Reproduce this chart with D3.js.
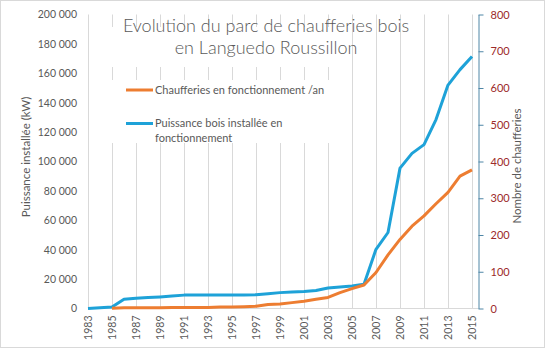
<!DOCTYPE html>
<html>
<head>
<meta charset="utf-8">
<script src="https://cdn.jsdelivr.net/npm/d3@7"></script>
<style>
  html, body { margin: 0; padding: 0; background: #fff; }
  svg { display: block; font-family: Lato, "Liberation Sans", sans-serif; }
</style>
</head>
<body>
<svg id="chart" width="545" height="350"></svg>
<script>
// Years on the category axis
const years = d3.range(1983, 2016);
const yearTicks = d3.range(1983, 2016, 2);

// Installed wood-fired power in operation (kW) — left axis
const puissance = [
  0, 500, 1000, 6300, 7000, 7400, 7900, 8500, 9100, 9100, 9100,
  9100, 9200, 9200, 9300, 10000, 10800, 11200, 11600, 12200, 14000,
  14700, 15300, 16500, 40300, 51700, 95500, 105500, 111500, 128500, 152000,
  162500, 171500
];

// Boilers in operation per year — right axis
const chaufferies = [
  null, null, 1, 2, 2, 2, 2, 3, 3, 3, 3,
  4, 4, 5, 6, 11, 12, 16, 20, 25, 30,
  43, 54, 64, 98, 146, 188, 224, 252, 285, 316,
  360, 377
];

const leftTicks = d3.range(0, 200001, 20000);
const rightTicks = d3.range(0, 801, 100);

const titleLines = ["Evolution du parc de chaufferies bois", "en Languedo Roussillon"];
const seriesNames = ["Chaufferies en fonctionnement /an", ["Puissance bois installée en", "fonctionnement"]];

const colOrange = "#ED7D31";
const colBlue = "#1EA2D8";
const gridCol = "#D9D9D9";
const textCol = "#595959";

const svg = d3.select("#chart");

// plot area
const plot = { left: 88, right: 478, top: 14.5, bottom: 308.5 };

const x = d3.scalePoint().domain(years).range([88, 472]);
const yL = d3.scaleLinear().domain([0, 200000]).range([plot.bottom, plot.top]);
const yR = d3.scaleLinear().domain([0, 800]).range([plot.bottom, plot.top]);

// outer chart border
svg.append("rect")
  .attr("x", 0.5).attr("y", 0.5).attr("width", 544).attr("height", 347)
  .attr("fill", "#fff").attr("stroke", gridCol);

// vertical gridlines at labelled years
svg.append("g")
  .selectAll("line")
  .data(yearTicks)
  .join("line")
  .attr("x1", d => Math.round(x(d)) + 0.5)
  .attr("x2", d => Math.round(x(d)) + 0.5)
  .attr("y1", plot.top)
  .attr("y2", plot.bottom)
  .attr("stroke", gridCol)
  .attr("stroke-width", 1);

// category axis baseline
svg.append("line")
  .attr("x1", plot.left).attr("x2", plot.right)
  .attr("y1", plot.bottom).attr("y2", plot.bottom)
  .attr("stroke", gridCol);

// left axis
const gL = svg.append("g")
  .attr("transform", `translate(${plot.left},0)`)
  .call(d3.axisLeft(yL).tickValues(leftTicks).tickSize(0).tickPadding(11)
    .tickFormat(d => d3.format(",")(d).replace(/,/g, " ")));
gL.select(".domain").remove();
gL.selectAll("text").attr("fill", textCol).attr("font-size", 10.5)
  .attr("font-family", "Lato, sans-serif");

// right axis
const gR = svg.append("g")
  .attr("transform", `translate(${plot.right + 0.5},0)`)
  .call(d3.axisRight(yR).tickValues(rightTicks).tickSize(5).tickSizeOuter(0).tickPadding(7));
gR.select(".domain").attr("stroke", "#4F86A6");
gR.selectAll(".tick line").attr("stroke", "#4F86A6");
gR.selectAll("text").attr("fill", "#9C2A2A").attr("font-size", 11)
  .attr("font-family", "Lato, sans-serif");

// bottom axis (rotated year labels)
const gX = svg.append("g")
  .attr("transform", `translate(0,${plot.bottom})`)
  .call(d3.axisBottom(x).tickValues(yearTicks).tickSize(0));
gX.select(".domain").remove();
gX.selectAll("text")
  .attr("transform", "rotate(-90)")
  .attr("text-anchor", "end")
  .attr("x", -7)
  .attr("y", 0)
  .attr("dy", "0.35em")
  .attr("fill", textCol)
  .attr("font-size", 10.5)
  .attr("font-family", "Lato, sans-serif");

// axis titles
svg.append("text")
  .attr("transform", "translate(30,157) rotate(-90)")
  .attr("text-anchor", "middle")
  .attr("fill", textCol)
  .attr("font-size", 11.5)
  .text("Puissance installée (kW)");

svg.append("text")
  .attr("transform", "translate(521,166) rotate(-90)")
  .attr("text-anchor", "middle")
  .attr("fill", textCol)
  .attr("font-size", 11.5)
  .text("Nombre de chaufferies");

// white backing behind title and legend
svg.append("rect").attr("x", 100).attr("y", 27).attr("width", 245).attr("height", 40).attr("fill", "#fff");
svg.append("rect").attr("x", 100).attr("y", 80).attr("width", 245).attr("height", 63).attr("fill", "#fff");

// series lines
const lineL = d3.line().defined(d => d.v != null).x(d => x(d.y)).y(d => yL(d.v));
const lineR = d3.line().defined(d => d.v != null).x(d => x(d.y)).y(d => yR(d.v));

svg.append("path")
  .datum(years.map((y, i) => ({ y, v: puissance[i] })))
  .attr("d", lineL)
  .attr("fill", "none")
  .attr("stroke", colBlue)
  .attr("stroke-width", 3)
  .attr("stroke-linejoin", "round");

svg.append("path")
  .datum(years.map((y, i) => ({ y, v: chaufferies[i] })))
  .attr("d", lineR)
  .attr("fill", "none")
  .attr("stroke", colOrange)
  .attr("stroke-width", 3)
  .attr("stroke-linejoin", "round");

// title
const title = svg.append("text")
  .attr("text-anchor", "middle")
  .attr("fill", textCol)
  .attr("font-size", 18)
  .attr("font-weight", 300);
titleLines.forEach((t, i) => {
  title.append("tspan").attr("x", 266).attr("y", 32 + i * 22).text(t);
});

// legend
const legend = svg.append("g").attr("font-size", 11).attr("fill", textCol);
legend.append("line")
  .attr("x1", 126).attr("x2", 153).attr("y1", 90).attr("y2", 90)
  .attr("stroke", colOrange).attr("stroke-width", 3);
legend.append("text").attr("x", 155).attr("y", 94).text(seriesNames[0]);
legend.append("line")
  .attr("x1", 126).attr("x2", 153).attr("y1", 123.5).attr("y2", 123.5)
  .attr("stroke", colBlue).attr("stroke-width", 3);
const lt = legend.append("text");
seriesNames[1].forEach((t, i) => {
  lt.append("tspan").attr("x", 155).attr("y", 127 + i * 15).text(t);
});
</script>
</body>
</html>
